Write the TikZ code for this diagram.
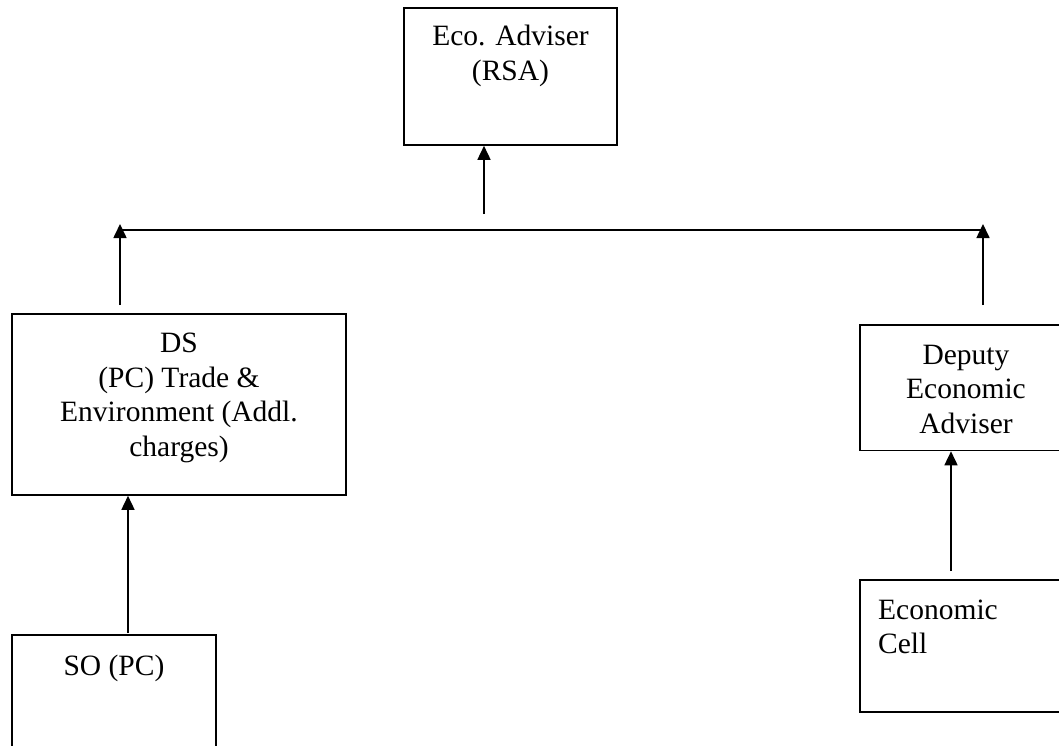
\documentclass[tikz,border=0pt]{standalone}
\usepackage{fontspec}
\setmainfont{Liberation Serif}
\usetikzlibrary{arrows.meta}
\begin{document}
\begin{tikzpicture}[x=1pt,y=-1pt,
  box/.style={draw, line width=1.6pt, rectangle, inner sep=0pt},
  lbl/.style={font=\fontsize{29.5}{34.5}\selectfont, align=center, inner sep=0pt},
  arr/.style={line width=1.6pt, -{Triangle[width=13pt,length=14pt]}},
  link/.style={line width=1.6pt}]
\useasboundingbox (0,0) rectangle (1059,746);
% boxes
\node[box, minimum width=213pt, minimum height=137pt] (eco) at (510.5,76.5) {};
\node[lbl] (ecot) at (510.5,56) {Eco. Adviser\\(RSA)};
\node[box, minimum width=334pt, minimum height=181pt] (ds) at (179,404.5) {};
\node[lbl] (dst) at (179,398) {DS\\(PC) Trade \&\\Environment (Addl.\\charges)};
\node[box, minimum width=204pt, minimum height=130pt] (so) at (114,700) {};
\node[lbl] (sot) at (114,668) {SO (PC)};
\node[box, minimum width=212pt, minimum height=125.5pt] (dep) at (966,387.75) {};
\node[lbl] (dept) at (966,389) {Deputy\\Economic\\Adviser};
\node[box, minimum width=212pt, minimum height=132pt] (cell) at (966,646) {};
\node[lbl, align=left, anchor=west] (cellt) at (878,627) {Economic\\Cell};
% connector points
\coordinate (ecoIn) at (484,214);
\coordinate (hl) at (120,230);
\coordinate (hr) at (983,230);
\coordinate (hlt) at (120,224);
\coordinate (hrt) at (983,224);
\coordinate (dsOut) at (120,305);
\coordinate (depOut) at (983,305);
\coordinate (soOut) at (128,633);
\coordinate (cellOut) at (951,571);
% connectors
\draw[arr] (ecoIn) -- (ecoIn |- eco.south);
\draw[link] (hl) -- (hr);
\draw[arr] (dsOut) -- (hlt);
\draw[arr] (depOut) -- (hrt);
\draw[arr] (soOut) -- (soOut |- ds.south);
\draw[arr] (cellOut) -- (cellOut |- dep.south);
\end{tikzpicture}
\end{document}
